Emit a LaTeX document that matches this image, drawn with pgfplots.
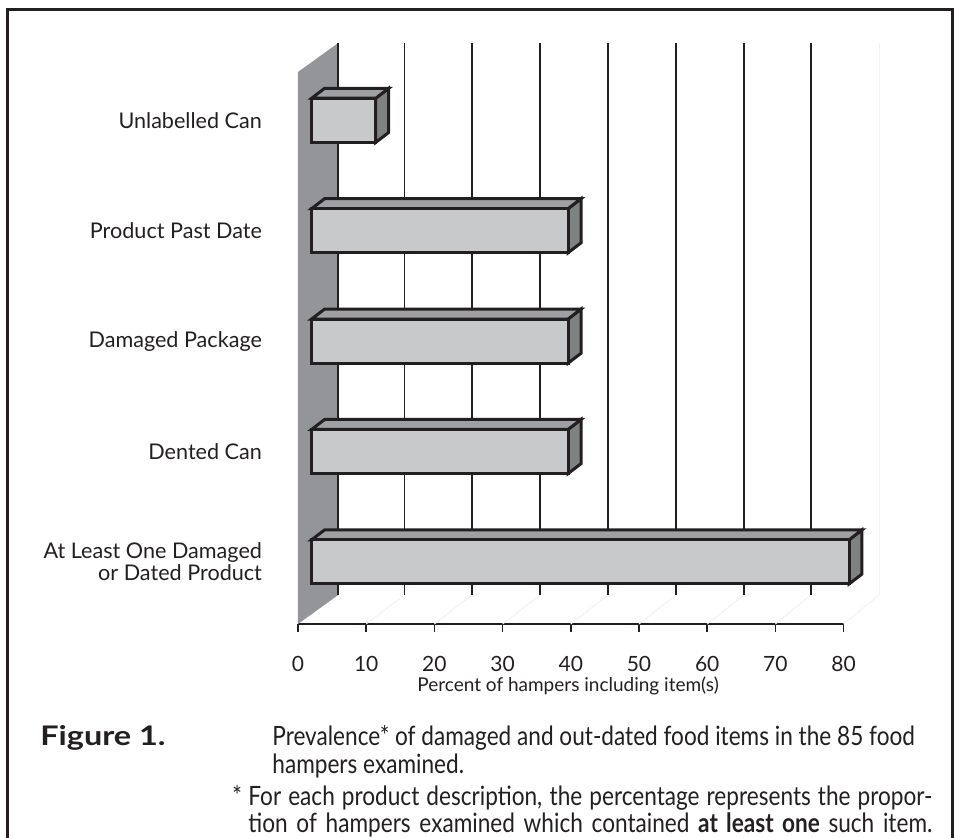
\documentclass[border=0pt]{standalone}
\usepackage{fontspec}
\setmainfont{Lato}
\newfontfamily\capfont[FakeStretch=0.85]{Lato}
\newfontfamily\figfont[FakeStretch=1.2]{Lato}
\usepackage{pgfplots}
\pgfplotsset{compat=1.18}
\definecolor{wallgray}{RGB}{147,149,152}
\definecolor{barfront}{RGB}{200,201,203}
\definecolor{bartop}{RGB}{158,160,163}
\definecolor{barside}{RGB}{126,131,130}
\definecolor{edge}{RGB}{35,31,32}

% #1 = value (percent), #2 = category centre (front face)
\newcommand{\threedbar}[2]{%
  \pgfmathsetmacro\xr{2+#1}%
  \pgfmathsetmacro\xrb{3.9+#1}%
  \pgfmathsetmacro\ylo{#2-0.2}%
  \pgfmathsetmacro\yhi{#2+0.2}%
  \pgfmathsetmacro\ylob{#2-0.11}%
  \pgfmathsetmacro\yhib{#2+0.29}%
  \addplot[fill=barside, draw=edge, line width=1.5pt] coordinates {(\xr,\ylo) (\xrb,\ylob) (\xrb,\yhib) (\xr,\yhi)} -- cycle;
  \addplot[fill=bartop, draw=edge, line width=1.5pt] coordinates {(2,\yhi) (\xr,\yhi) (\xrb,\yhib) (3.9,\yhib)} -- cycle;
  \addplot[fill=barfront, draw=edge, line width=1.5pt] coordinates {(2,\ylo) (\xr,\ylo) (\xr,\yhi) (2,\yhi)} -- cycle;
}

\begin{document}
\begin{tikzpicture}
\useasboundingbox (-149pt,-106.5pt) rectangle (328pt,312pt);
\draw[edge, line width=1.5pt] (-145pt,-115pt) -- (-145pt,307pt) -- (327pt,307pt) -- (327pt,-115pt);
\begin{axis}[
  at={(0pt,0pt)}, anchor=south west,
  scale only axis, width=272.8pt, height=276pt,
  xmin=0, xmax=80, ymin=0, ymax=5,
  clip=false,
  axis x line*=bottom,
  axis y line*=left,
  y axis line style={draw=none},
  x axis line style={edge, line width=0.75pt},
  xtick={0,10,...,80},
  xtick align=outside,
  major tick length=4pt,
  x tick style={edge, line width=0.75pt},
  ytick={0.5625,1.5625,2.5625,3.5625,4.5625},
  yticklabels={{At Least One Damaged\\or Dated Product},Dented Can,Damaged Package,Product Past Date,Unlabelled Can},
  y tick style={draw=none},
  yticklabel style={align=right, font=\fontsize{10.8}{11}\selectfont, text=edge, xshift=-14.5pt},
  xticklabel style={font=\fontsize{10.5}{12}\selectfont, text=edge, yshift=-8.5pt},
  /pgf/number format/assume math mode=true,
  xlabel={Percent of hampers including item(s)},
  xlabel style={font=\fontsize{9.5}{11}\selectfont, text=edge, at={(axis description cs:0.495,0)}, anchor=base, yshift=-33.5pt},
]
% faint floor lines
\addplot[black!6, line width=0.5pt] coordinates {(10,0) (15.6,0.263)};
\addplot[black!6, line width=0.5pt] coordinates {(20,0) (25.5,0.263)};
\addplot[black!6, line width=0.5pt] coordinates {(30,0) (35.5,0.263)};
\addplot[black!6, line width=0.5pt] coordinates {(40,0) (45.45,0.263)};
\addplot[black!6, line width=0.5pt] coordinates {(50,0) (55.4,0.263)};
\addplot[black!6, line width=0.5pt] coordinates {(60,0) (65.4,0.263)};
\addplot[black!6, line width=0.5pt] coordinates {(70,0) (75.2,0.263)};
\addplot[black!6, line width=0.5pt] coordinates {(80,0) (85.2,0.263)};
\addplot[black!5, line width=0.5pt] coordinates {(85.2,0.263) (85.2,5.263)};
% side wall
\addplot[fill=wallgray, draw=none] coordinates {(0,0) (0,5) (5.9,5.263) (5.9,0.263)} -- cycle;
% back gridlines
\addplot[edge, line width=0.75pt] coordinates {(5.9,0.263) (5.9,5.263)};
\addplot[edge, line width=0.75pt] coordinates {(15.6,0.263) (15.6,5.263)};
\addplot[edge, line width=0.75pt] coordinates {(25.5,0.263) (25.5,5.263)};
\addplot[edge, line width=0.75pt] coordinates {(35.5,0.263) (35.5,5.263)};
\addplot[edge, line width=0.75pt] coordinates {(45.45,0.263) (45.45,5.263)};
\addplot[edge, line width=0.75pt] coordinates {(55.4,0.263) (55.4,5.263)};
\addplot[edge, line width=0.75pt] coordinates {(65.4,0.263) (65.4,5.263)};
\addplot[edge, line width=0.75pt] coordinates {(75.2,0.263) (75.2,5.263)};
% bars: value, category centre
\threedbar{9.4}{4.5625}
\threedbar{37.6}{3.5625}
\threedbar{37.6}{2.5625}
\threedbar{37.6}{1.5625}
\threedbar{78.8}{0.5625}
\end{axis}
% caption
\begin{scope}[every node/.style={inner sep=0pt, text=edge}]
\node[anchor=base west, font=\figfont\fontsize{13.5}{14}\selectfont\bfseries] at (-129pt,-60.5pt) {Figure 1.};
\node[anchor=base west, font=\capfont\fontsize{13.3}{14}\selectfont] at (-13pt,-60.5pt) {Prevalence* of damaged and out-dated food items in the 85 food};
\node[anchor=base west, font=\capfont\fontsize{13.3}{14}\selectfont] at (-13pt,-74.5pt) {hampers examined.};
\node[anchor=base west, font=\capfont\fontsize{13.3}{14}\selectfont] at (-33pt,-90.5pt) {*};
\node[anchor=base west, font=\capfont\fontsize{13.3}{14}\selectfont] at (-25pt,-90.5pt) {\makebox[342pt][s]{For each product description, the percentage represents the propor-}};
\node[anchor=base west, font=\capfont\fontsize{13.3}{14}\selectfont] at (-25pt,-104pt) {\makebox[342pt][s]{tion of hampers examined which contained \textbf{at least one} such item.}};
\end{scope}
\end{tikzpicture}
\end{document}
